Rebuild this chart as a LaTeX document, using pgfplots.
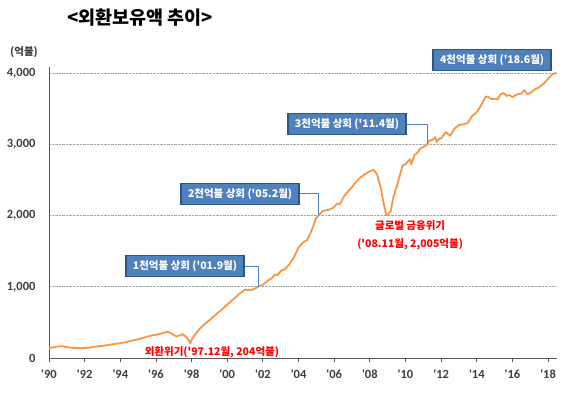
\documentclass[border=0pt]{standalone}
\usepackage{fontspec}
\setmainfont{Carlito}
\newfontfamily\kr{Noto Sans CJK KR}
\usepackage{pgfplots}
\pgfplotsset{compat=1.18}
\definecolor{lineorange}{RGB}{247,150,70}
\definecolor{boxfill}{RGB}{79,129,189}
\definecolor{boxdraw}{RGB}{50,84,128}
\definecolor{conn}{RGB}{79,129,189}
\definecolor{ticktxt}{RGB}{64,64,64}
\pgfplotstableread{
x y
1990.0 140
1990.25 150
1990.5 162
1990.75 165
1991.0 152
1991.25 145
1991.5 140
1991.75 138
1992.0 140
1992.25 146
1992.5 155
1992.75 165
1993.0 170
1993.25 180
1993.5 190
1993.75 200
1994.0 208
1994.25 220
1994.5 235
1994.75 250
1995.0 262
1995.25 280
1995.5 300
1995.75 315
1996.0 325
1996.25 340
1996.5 360
1996.67 368
1996.83 348
1997.0 322
1997.17 302
1997.33 318
1997.5 335
1997.67 300
1997.83 255
1997.92 204
1998.0 255
1998.25 350
1998.5 420
1998.75 480
1999.0 530
1999.25 585
1999.5 640
1999.75 690
2000.0 750
2000.25 805
2000.5 860
2000.75 915
2001.0 960
2001.25 950
2001.5 968
2001.75 1002
2002.0 1030
2002.25 1080
2002.5 1120
2002.67 1170
2002.83 1165
2003.0 1220
2003.25 1250
2003.5 1320
2003.75 1420
2004.0 1550
2004.25 1620
2004.5 1660
2004.75 1800
2005.0 1970
2005.17 2010
2005.33 2060
2005.5 2070
2005.75 2085
2006.0 2120
2006.17 2170
2006.33 2160
2006.5 2250
2006.75 2330
2007.0 2400
2007.25 2480
2007.5 2540
2007.75 2585
2008.0 2620
2008.2 2640
2008.4 2580
2008.6 2400
2008.75 2200
2008.92 2005
2009.0 2010
2009.17 2060
2009.33 2270
2009.5 2400
2009.67 2550
2009.83 2700
2010.0 2720
2010.25 2790
2010.33 2720
2010.5 2850
2010.67 2880
2010.83 2940
2011.0 2960
2011.17 2985
2011.33 3050
2011.5 3060
2011.67 3100
2011.75 3030
2011.92 3085
2012.0 3080
2012.25 3170
2012.5 3120
2012.75 3220
2013.0 3270
2013.25 3280
2013.5 3300
2013.75 3400
2014.0 3450
2014.25 3550
2014.5 3670
2014.67 3660
2014.83 3630
2015.0 3640
2015.17 3630
2015.33 3700
2015.5 3720
2015.67 3680
2015.83 3690
2016.0 3660
2016.25 3700
2016.5 3710
2016.67 3760
2016.83 3700
2017.0 3720
2017.25 3770
2017.5 3800
2017.75 3850
2018.0 3920
2018.25 3980
2018.45 4003
}\reserves
\begin{document}
\begin{tikzpicture}
\useasboundingbox (0pt,0pt) rectangle (580pt,397pt);
\node[font=\kr\bfseries\fontsize{18.5}{22}\selectfont, text=black] at (140pt,379pt) {<외환보유액 추이>};
\node[font=\kr\bfseries\fontsize{10.5}{12}\selectfont, text=ticktxt] at (24pt,345pt) {(억불)};
\begin{axis}[
  at={(49pt,39pt)}, anchor=south west, scale only axis,
  width=508pt, height=291pt,
  xmin=1990, xmax=2018.5, ymin=0, ymax=4084,
  axis x line=bottom, axis y line=left,
  axis line style={-, draw=gray!70!black, line width=0.8pt},
  xtick={1990,1992,...,2018},
  xticklabels={\textquotesingle 90,\textquotesingle 92,\textquotesingle 94,\textquotesingle 96,\textquotesingle 98,\textquotesingle 00,\textquotesingle 02,\textquotesingle 04,\textquotesingle 06,\textquotesingle 08,\textquotesingle 10,\textquotesingle 12,\textquotesingle 14,\textquotesingle 16,\textquotesingle 18},
  ytick={0,1000,2000,3000,4000},
  yticklabel style={/pgf/number format/.cd, 1000 sep={,}, assume math mode=true},
  ticklabel style={font=\bfseries\fontsize{12.5}{14}\selectfont, text=ticktxt},
  tick align=outside, major tick length=4pt,
  xtick style={draw=gray!70!black, line width=0.8pt},
  ytick style={draw=none},
  ymajorgrids, grid style={densely dotted, gray!70, line width=0.7pt},
  xticklabel shift=4pt, yticklabel shift=6pt,
  clip=false,
]
\addplot[lineorange, line width=1.8pt, line join=round] table[x=x,y=y] {\reserves};

\tikzset{box/.style={fill=boxfill, draw=boxdraw, line width=1.4pt, text=white,
  font=\kr\bfseries\fontsize{10.5}{12}\selectfont, minimum height=21pt, inner xsep=7pt}}
\node[box] (b1) at (axis cs:1997.63,1291) {1천억불 상회 (\textquotesingle01.9월)};
\node[box] (b2) at (axis cs:2000.72,2302) {2천억불 상회 (\textquotesingle05.2월)};
\node[box] (b3) at (axis cs:2006.72,3284) {3천억불 상회 (\textquotesingle11.4월)};
\node[box] (b4) at (axis cs:2014.86,4182) {4천억불 상회 (\textquotesingle18.6월)};
\draw[conn, line width=1pt] (b1.east) -| (axis cs:2001.75,1000);
\draw[conn, line width=1pt] (b2.east) -| (axis cs:2005.1,2000);
\draw[conn, line width=1pt] (b3.east) -| (axis cs:2011.25,3000);

\node[font=\kr\bfseries\fontsize{10.5}{12}\selectfont, text=red] at (axis cs:1999.14,84) {외환위기(\textquotesingle97.12월, 204억불)};
\node[font=\kr\bfseries\fontsize{10.5}{12}\selectfont, text=red] at (axis cs:2010.26,1853) {글로벌 금융위기};
\node[font=\kr\bfseries\fontsize{10.5}{12}\selectfont, text=red] at (axis cs:2010.26,1600) {(\textquotesingle08.11월, 2,005억불)};
\end{axis}
\end{tikzpicture}
\end{document}
